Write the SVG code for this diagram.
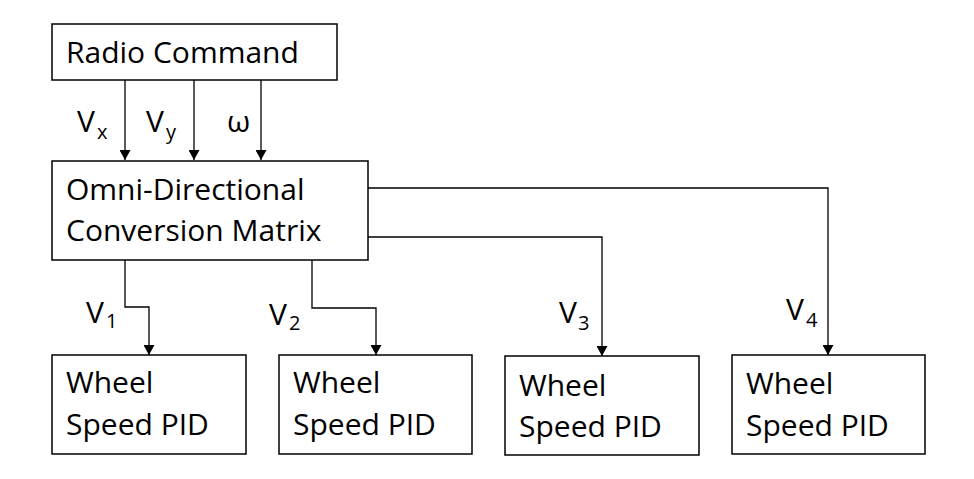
<svg xmlns="http://www.w3.org/2000/svg" width="974" height="479" viewBox="0 0 974 479">
<defs>
<marker id="a" markerWidth="12" markerHeight="11" refX="10" refY="5.5" orient="auto" markerUnits="userSpaceOnUse"><path d="M0,0 L10,5.5 L0,11 Z" fill="#000"/></marker>
<style>
.b{fill:#fff;stroke:#000;stroke-width:1.5}
.t{font-family:"Open Sans","Liberation Sans",sans-serif;font-size:30px;fill:#000}
.s{font-family:"Open Sans","Liberation Sans",sans-serif;font-size:20px;fill:#000}
.c{fill:none;stroke:#000;stroke-width:1.3;marker-end:url(#a)}
</style>
</defs>
<rect width="974" height="479" fill="#fff"/>
<g id="connectors">
<path class="c" d="M125,80 V160"/>
<path class="c" d="M194,80 V160"/>
<path class="c" d="M261,80 V160"/>
<path class="c" d="M125,260 V307 H149 V355"/>
<path class="c" d="M312,260 V308 H376 V355"/>
<path class="c" d="M368,237 H602 V356"/>
<path class="c" d="M368,188 H828 V355"/>
<text class="t" x="77" y="132">V</text><text class="s" x="97" y="139">x</text>
<text class="t" x="146" y="132">V</text><text class="s" x="166" y="139">y</text>
<text class="t" x="227" y="132">ω</text>
<text class="t" x="86" y="323">V</text><text class="s" x="106" y="328">1</text>
<text class="t" x="269" y="325">V</text><text class="s" x="289" y="330">2</text>
<text class="t" x="559" y="323">V</text><text class="s" x="578" y="330">3</text>
<text class="t" x="786" y="320">V</text><text class="s" x="806" y="327">4</text>
</g>
<g id="radio"><rect class="b" x="52" y="24" width="285" height="56"/><text class="t" x="66" y="63">Radio Command</text></g>
<g id="matrix"><rect class="b" x="52" y="161" width="316" height="99"/><text class="t" x="66" y="200">Omni-Directional</text><text class="t" x="66" y="241">Conversion Matrix</text></g>
<g id="w1"><rect class="b" x="52" y="355" width="194" height="99"/><text class="t" x="66" y="393">Wheel</text><text class="t" x="66" y="435">Speed PID</text></g>
<g id="w2"><rect class="b" x="279" y="355" width="193" height="99"/><text class="t" x="293" y="393">Wheel</text><text class="t" x="293" y="435">Speed PID</text></g>
<g id="w3"><rect class="b" x="505" y="356" width="194" height="99"/><text class="t" x="519" y="396">Wheel</text><text class="t" x="519" y="437">Speed PID</text></g>
<g id="w4"><rect class="b" x="732" y="355" width="193" height="99"/><text class="t" x="746" y="394">Wheel</text><text class="t" x="746" y="436">Speed PID</text></g>
</svg>
